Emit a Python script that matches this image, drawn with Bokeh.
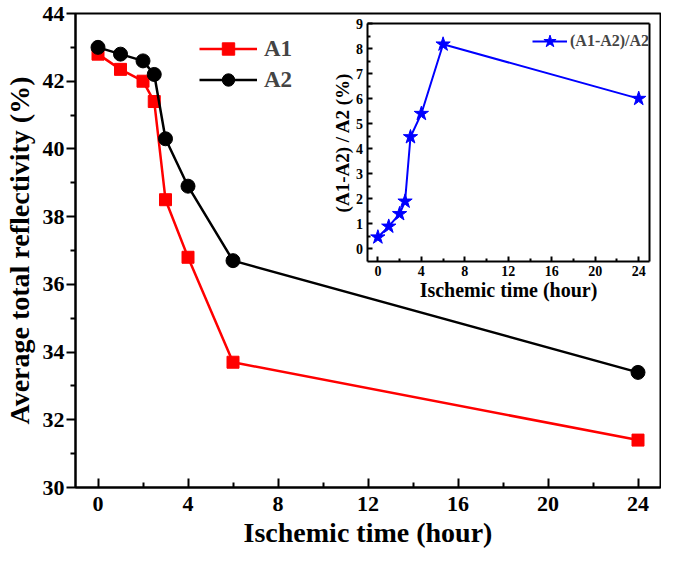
from bokeh.plotting import figure
from bokeh.models import Range1d, LinearAxis, FixedTicker, Legend, LegendItem
from bokeh.embed import file_html
from bokeh.resources import INLINE

# ---- data ----
hours = [0, 1, 2, 2.5, 3, 4, 6, 24]
a1 = [42.8, 42.35, 42.0, 41.4, 38.5, 36.8, 33.7, 31.4]
a2 = [43.0, 42.8, 42.6, 42.2, 40.3, 38.9, 36.7, 33.4]
ratio = [0.47, 0.9, 1.4, 1.9, 4.47, 5.4, 8.17, 6.0]

x_ticks = [0, 4, 8, 12, 16, 20, 24]
x_minor = [2, 6, 10, 14, 18, 22]
y_ticks = [30, 32, 34, 36, 38, 40, 42, 44]
y_minor = [31, 33, 35, 37, 39, 41, 43]
iy_ticks = [0, 1, 2, 3, 4, 5, 6, 7, 8, 9]
iy_minor = [0.5, 1.5, 2.5, 3.5, 4.5, 5.5, 6.5, 7.5, 8.5]

FONT = "Liberation Serif"

# ---- layout (pixels inside the figure) ----
W, H = 661, 555
L, R, T, B = 70, 660, 13, 487
IL, IR, IT, IB = 364, 649, 23, 261
X0, X1 = -1, 25
IY0, IY1 = -0.5, 9

p = figure(width=W, height=H, x_range=Range1d(X0, X1), y_range=Range1d(30, 44),
           output_backend="svg", toolbar_location=None,
           min_border_left=L, min_border_right=W - R, min_border_top=T,
           min_border_bottom=H - B)
p.background_fill_color = "white"
p.border_fill_color = "white"
p.outline_line_color = "black"
p.outline_line_width = 2
p.xgrid.visible = False
p.ygrid.visible = False

kx = (X1 - X0) / (IR - IL)
ky = (IY1 - IY0) / (IB - IT)
p.extra_x_ranges = {"ix": Range1d(X0 - (IL - L) * kx, X1 + (R - IR) * kx)}
p.extra_y_ranges = {"iy": Range1d(IY0 - (B - IB) * ky, IY1 + (IT - T) * ky)}

main_x = p.below[0]
main_y = p.left[0]


def style_axis(ax, tick_size, label_size):
    ax.axis_line_width = 2
    ax.axis_line_color = "black"
    ax.major_tick_line_width = 2
    ax.minor_tick_line_width = 2
    ax.major_label_text_font = FONT
    ax.major_label_text_font_style = "bold"
    ax.major_label_text_font_size = tick_size
    ax.major_label_text_color = "black"
    ax.axis_label_text_font = FONT
    ax.axis_label_text_font_style = "bold"
    ax.axis_label_text_font_size = label_size
    ax.axis_label_text_color = "black"


main_x.ticker = FixedTicker(ticks=x_ticks, minor_ticks=x_minor)
main_x.axis_label = "Ischemic time (hour)"
style_axis(main_x, "22px", "28px")
main_x.major_tick_in = 9
main_x.major_tick_out = 0
main_x.minor_tick_in = 5
main_x.minor_tick_out = 0
main_x.major_label_standoff = 9
main_x.axis_label_standoff = 3

main_y.ticker = FixedTicker(ticks=y_ticks, minor_ticks=y_minor)
main_y.axis_label = "Average total reflectivity (%)"
style_axis(main_y, "22px", "28px")
main_y.major_tick_in = 0
main_y.major_tick_out = 9
main_y.minor_tick_in = 0
main_y.minor_tick_out = 5
main_y.major_label_standoff = 2
main_y.axis_label_standoff = 5

# ---- main series ----
l1 = p.line(hours, a1, line_color="#ff0000", line_width=2.5)
s1 = p.scatter(hours, a1, marker="square", size=12, fill_color="#ff0000", line_color="#ff0000")
l2 = p.line(hours, a2, line_color="black", line_width=2.5)
s2 = p.scatter(hours, a2, marker="circle", size=14, fill_color="black", line_color="black")

leg = Legend(items=[LegendItem(label="A1", renderers=[l1, s1]),
                    LegendItem(label="A2", renderers=[l2, s2])],
             location=(124, 392), orientation="vertical")
leg.background_fill_alpha = 0
leg.border_line_alpha = 0
leg.padding = 0
leg.margin = 0
leg.spacing = 0
leg.glyph_width = 58
leg.glyph_height = 31
leg.label_height = 31
leg.label_standoff = 7
leg.label_text_font = FONT
leg.label_text_font_style = "bold"
leg.label_text_font_size = "23px"
p.add_layout(leg)

# ---- inset ----
ix_axis = LinearAxis(x_range_name="ix", y_range_name="iy", fixed_location=IY0,
                     bounds=(X0, X1), ticker=FixedTicker(ticks=x_ticks, minor_ticks=x_minor),
                     axis_label="Ischemic time (hour)")
style_axis(ix_axis, "14px", "20px")
ix_axis.major_tick_in = 5
ix_axis.major_tick_out = 0
ix_axis.minor_tick_in = 3
ix_axis.minor_tick_out = 0
ix_axis.major_label_standoff = 4
ix_axis.axis_label_standoff = 0
p.add_layout(ix_axis, "below")

iy_axis = LinearAxis(x_range_name="ix", y_range_name="iy", fixed_location=X0,
                     bounds=(IY0, IY1), ticker=FixedTicker(ticks=iy_ticks, minor_ticks=iy_minor),
                     axis_label="(A1-A2) / A2 (%)")
style_axis(iy_axis, "14px", "19px")
iy_axis.major_tick_in = 5
iy_axis.major_tick_out = 0
iy_axis.minor_tick_in = 3
iy_axis.minor_tick_out = 0
iy_axis.major_label_standoff = 4
iy_axis.axis_label_standoff = 1
p.add_layout(iy_axis, "left")

for side, loc, bnds in (("above", IY1, (X0, X1)), ("right", X1, (IY0, IY1))):
    ax = LinearAxis(x_range_name="ix", y_range_name="iy", fixed_location=loc,
                    bounds=bnds, ticker=FixedTicker(ticks=[], minor_ticks=[]))
    ax.axis_line_width = 2
    ax.major_tick_in = 0
    ax.major_tick_out = 0
    ax.minor_tick_in = 0
    ax.minor_tick_out = 0
    ax.major_label_text_alpha = 0
    p.add_layout(ax, side)

l3 = p.line(hours, ratio, line_color="#0000ff", line_width=2, x_range_name="ix", y_range_name="iy")
s3 = p.scatter(hours, ratio, marker="star", size=15, fill_color="#0000ff", line_color="#0000ff",
               x_range_name="ix", y_range_name="iy")

leg2 = Legend(items=[LegendItem(label="(A1-A2)/A2", renderers=[l3, s3])],
              location=(457, 430))
leg2.background_fill_alpha = 0
leg2.border_line_alpha = 0
leg2.padding = 0
leg2.margin = 0
leg2.glyph_width = 35
leg2.glyph_height = 32
leg2.label_height = 32
leg2.label_standoff = 3
leg2.label_text_font = FONT
leg2.label_text_font_style = "bold"
leg2.label_text_font_size = "16px"
p.add_layout(leg2)

open("out.html", "w").write(file_html(p, INLINE))
